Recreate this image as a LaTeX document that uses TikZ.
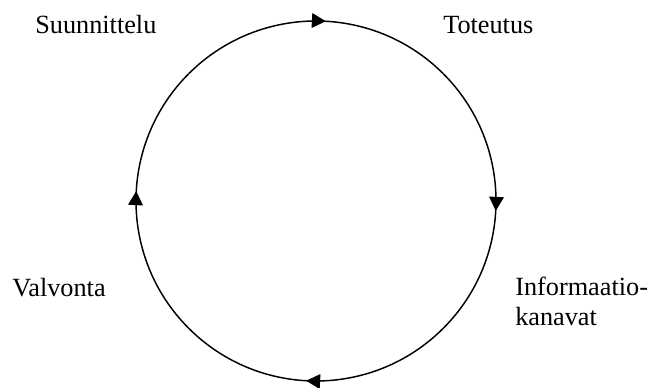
\documentclass[tikz,border=0pt]{standalone}
\usepackage{fontspec}
\setmainfont{Liberation Serif}
\usetikzlibrary{arrows.meta,decorations.markings}
\begin{document}
\begin{tikzpicture}[x=0.75pt,y=0.75pt,
  lbl/.style={anchor=base west,inner sep=0pt,font=\fontsize{19.7}{22.5}\selectfont},
  cyc/.style={line width=1.1pt,postaction={decorate},
    decoration={markings,mark=at position 0.535 with {\arrow{Triangle[length=10.5pt,width=11pt]}}}}]
\useasboundingbox (0,0) rectangle (650,387);
\coordinate (c) at (316,186);
\draw[cyc] (c) ++(135:180) arc[start angle=135,end angle=45,radius=180];
\draw[cyc] (c) ++(45:180) arc[start angle=45,end angle=-45,radius=180];
\draw[cyc] (c) ++(-45:180) arc[start angle=-45,end angle=-135,radius=180];
\draw[cyc] (c) ++(-135:180) arc[start angle=-135,end angle=-225,radius=180];
\node[lbl] (suun) at (35,354) {Suunnittelu};
\node[lbl] (tot) at (443,354) {Toteutus};
\node[lbl] (val) at (12,91) {Valvonta};
\node[lbl] (inf1) at (515,92) {Informaatio-};
\node[lbl] (inf2) at (515,62) {kanavat};
\end{tikzpicture}
\end{document}
